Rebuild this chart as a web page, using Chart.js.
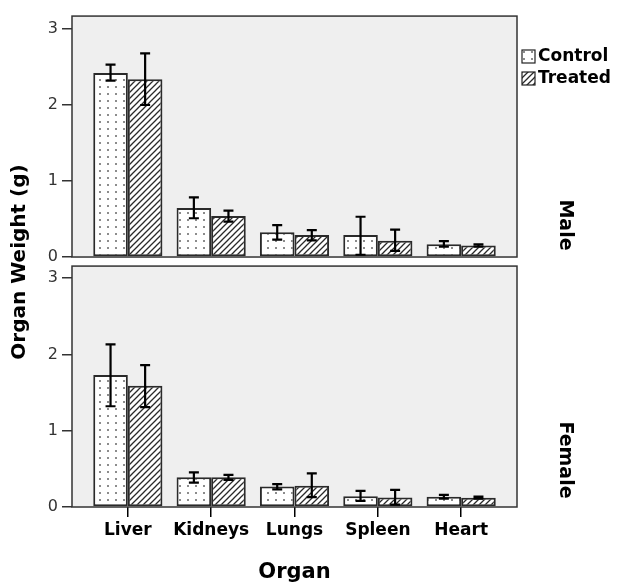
<!DOCTYPE html>
<html>
<head>
<meta charset="utf-8">
<script src="https://cdn.jsdelivr.net/npm/chart.js@4.4.1/dist/chart.umd.min.js"></script>
<style>
  html, body { margin: 0; padding: 0; background: #fff; }
  #wrap { width: 619px; height: 585px; }
</style>
</head>
<body>
<div id="wrap"><canvas id="chart" width="619" height="585" style="width:619px;height:585px"></canvas></div>
<script>
// data
const organs = ['Liver', 'Kidneys', 'Lungs', 'Spleen', 'Heart'];
const yTicks = [0, 1, 2, 3];

const maleControl     = [2.42, 0.645, 0.325, 0.29, 0.167];
const maleControlLow  = [2.32, 0.51, 0.23, 0.03, 0.135];
const maleControlHigh = [2.53, 0.785, 0.42, 0.53, 0.21];
const maleTreated     = [2.34, 0.54, 0.29, 0.215, 0.15];
const maleTreatedLow  = [2.0, 0.465, 0.22, 0.08, 0.135];
const maleTreatedHigh = [2.68, 0.61, 0.355, 0.36, 0.165];

const femaleControl     = [1.73, 0.39, 0.27, 0.14, 0.135];
const femaleControlLow  = [1.32, 0.32, 0.23, 0.08, 0.11];
const femaleControlHigh = [2.13, 0.455, 0.30, 0.21, 0.16];
const femaleTreated     = [1.59, 0.39, 0.28, 0.125, 0.12];
const femaleTreatedLow  = [1.31, 0.355, 0.13, 0.03, 0.11];
const femaleTreatedHigh = [1.86, 0.42, 0.44, 0.225, 0.135];

Chart.defaults.font.family = 'DejaVu Sans';

const ctx = document.getElementById('chart').getContext('2d');

function dotPattern() {
  const c = document.createElement('canvas');
  c.width = 8; c.height = 7;
  const g = c.getContext('2d');
  g.fillStyle = '#fff';
  g.fillRect(0, 0, 8, 7);
  g.fillStyle = '#8c8c8c';
  g.fillRect(3, 2, 2, 2);
  return ctx.createPattern(c, 'repeat');
}

function hatchPattern() {
  const s = 6;
  const c = document.createElement('canvas');
  c.width = s; c.height = s;
  const g = c.getContext('2d');
  g.fillStyle = '#fff';
  g.fillRect(0, 0, s, s);
  g.strokeStyle = '#2a2a2a';
  g.lineWidth = 1.3;
  g.beginPath();
  g.moveTo(-1, s + 1); g.lineTo(s + 1, -1);
  g.moveTo(-1, 1); g.lineTo(1, -1);
  g.moveTo(s - 1, s + 1); g.lineTo(s + 1, s - 1);
  g.stroke();
  return ctx.createPattern(c, 'repeat');
}

const dots = dotPattern();
const hatch = hatchPattern();

const toXY = arr => arr.map((v, i) => ({ x: i + 1, y: v }));

function barSet(label, values, low, high, axis, stack, fill) {
  return {
    label: label,
    data: toXY(values),
    errLow: low,
    errHigh: high,
    yAxisID: axis,
    stack: stack,
    backgroundColor: fill,
    borderColor: '#2a2a2a',
    borderWidth: 2,
    borderSkipped: false
  };
}

function yAxis(min, max) {
  return {
    type: 'linear',
    position: 'left',
    stack: 'panels',
    stackWeight: 1,
    stacked: false,
    min: min,
    max: max,
    afterBuildTicks: s => { s.ticks = yTicks.map(v => ({ value: v })); },
    afterFit: s => { s.width = 72; },
    ticks: { color: '#333', font: { size: 16 }, padding: 4 },
    grid: { drawOnChartArea: false, tickLength: 10, color: '#333', lineWidth: 1.5 },
    border: { display: false }
  };
}

// panel tops (in axis units) and the side labels
const panels = [
  { axis: 'yM', top: 3.17, label: 'Male', labelY: 225 },
  { axis: 'yF', top: 3.157, label: 'Female', labelY: 460 }
];

const panelPlugin = {
  id: 'panels',
  beforeDatasetsDraw(chart) {
    const { ctx, chartArea: a } = chart;
    ctx.save();
    ctx.fillStyle = '#efefef';
    panels.forEach(p => {
      const s = chart.scales[p.axis];
      const t = s.getPixelForValue(p.top), b = s.getPixelForValue(0);
      ctx.fillRect(a.left, t, a.right - a.left, b - t);
    });
    ctx.restore();
  },
  afterDatasetsDraw(chart) {
    const { ctx, chartArea: a } = chart;
    ctx.save();
    // error bars
    ctx.strokeStyle = '#000';
    ctx.lineWidth = 2.2;
    chart.data.datasets.forEach((ds, i) => {
      const meta = chart.getDatasetMeta(i);
      const s = chart.scales[ds.yAxisID];
      meta.data.forEach((el, j) => {
        const yl = s.getPixelForValue(ds.errLow[j]);
        const yh = s.getPixelForValue(ds.errHigh[j]);
        ctx.beginPath();
        ctx.moveTo(el.x, yl); ctx.lineTo(el.x, yh);
        ctx.moveTo(el.x - 5, yl); ctx.lineTo(el.x + 5, yl);
        ctx.moveTo(el.x - 5, yh); ctx.lineTo(el.x + 5, yh);
        ctx.stroke();
      });
    });
    // panel frames
    ctx.strokeStyle = '#333';
    ctx.lineWidth = 1.5;
    panels.forEach(p => {
      const s = chart.scales[p.axis];
      const t = s.getPixelForValue(p.top), b = s.getPixelForValue(0);
      ctx.strokeRect(a.left, t, a.right - a.left, b - t);
    });
    ctx.restore();
  },
  afterDraw(chart) {
    const { ctx, chartArea: a } = chart;
    ctx.save();
    ctx.fillStyle = '#000';
    ctx.textBaseline = 'middle';
    // shared y title
    ctx.font = 'bold 20px "DejaVu Sans"';
    ctx.textAlign = 'center';
    ctx.save();
    ctx.translate(20, 262);
    ctx.rotate(-Math.PI / 2);
    ctx.fillText('Organ Weight (g)', 0, 0);
    ctx.restore();
    // panel labels
    ctx.font = 'bold 19px "DejaVu Sans"';
    panels.forEach(p => {
      ctx.save();
      ctx.translate(565, p.labelY);
      ctx.rotate(Math.PI / 2);
      ctx.fillText(p.label, 0, 0);
      ctx.restore();
    });
    // legend
    ctx.font = 'bold 17px "DejaVu Sans"';
    ctx.textAlign = 'left';
    [['Control', dots, 50], ['Treated', hatch, 72]].forEach(([txt, fill, y]) => {
      ctx.fillStyle = fill;
      ctx.fillRect(a.right + 5, y, 13, 13);
      ctx.strokeStyle = '#222';
      ctx.lineWidth = 1.2;
      ctx.strokeRect(a.right + 5, y, 13, 13);
      ctx.fillStyle = '#000';
      ctx.fillText(txt, a.right + 21, y + 7);
    });
    ctx.restore();
  }
};

new Chart(ctx, {
  type: 'bar',
  data: {
    datasets: [
      barSet('Control', maleControl, maleControlLow, maleControlHigh, 'yM', 'control', dots),
      barSet('Treated', maleTreated, maleTreatedLow, maleTreatedHigh, 'yM', 'treated', hatch),
      barSet('Control', femaleControl, femaleControlLow, femaleControlHigh, 'yF', 'control', dots),
      barSet('Treated', femaleTreated, femaleTreatedLow, femaleTreatedHigh, 'yF', 'treated', hatch)
    ]
  },
  options: {
    responsive: false,
    animation: false,
    categoryPercentage: 0.83,
    barPercentage: 1,
    layout: { padding: { left: 0, top: 16, right: 102, bottom: 0 } },
    plugins: { legend: { display: false }, tooltip: { enabled: false } },
    scales: {
      x: {
        type: 'linear',
        offset: false,
        min: 0.33,
        max: 5.67,
        afterBuildTicks: s => { s.ticks = organs.map((_, i) => ({ value: i + 1 })); },
        afterFit: s => { s.height = 78; },
        ticks: {
          callback: v => organs[v - 1],
          autoSkip: false,
          maxRotation: 0,
          color: '#000',
          font: { size: 17, weight: 'bold' },
          padding: 3
        },
        grid: { offset: false, drawOnChartArea: false, tickLength: 10, color: '#000', lineWidth: 1.5 },
        border: { display: false },
        title: {
          display: true,
          text: 'Organ',
          color: '#000',
          font: { size: 21, weight: 'bold' },
          padding: { top: 16, bottom: 0 }
        }
      },
      yF: yAxis(0, 3.217),
      yM: yAxis(-0.059, 3.171)
    }
  },
  plugins: [panelPlugin]
});
</script>
</body>
</html>
